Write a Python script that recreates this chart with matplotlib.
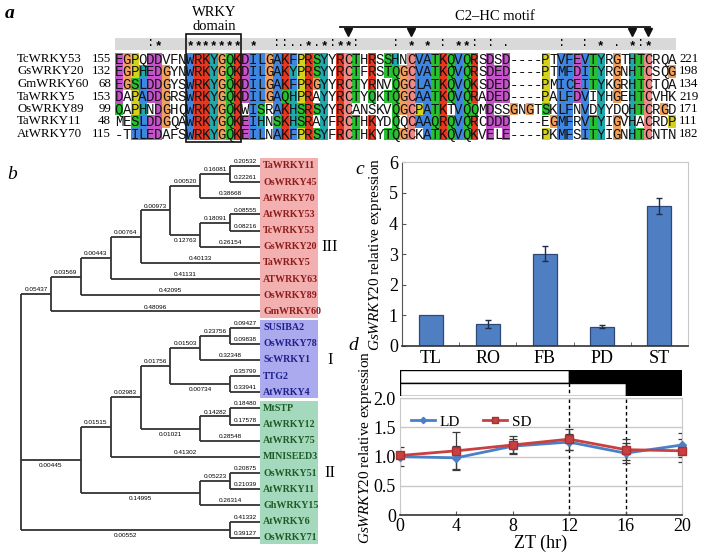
import matplotlib
matplotlib.use('Agg')
import matplotlib.pyplot as plt
from matplotlib.patches import Rectangle

plt.rcParams['font.family'] = ['Liberation Serif', 'DejaVu Serif']
plt.rcParams['mathtext.fontset'] = 'custom'
plt.rcParams['mathtext.rm'] = 'Liberation Serif'
plt.rcParams['mathtext.it'] = 'Liberation Serif:italic'

# ------------------------------------------------------------------ data
seq_names = ['TcWRKY53', 'GsWRKY20', 'GmWRKY60', 'TaWRKY5', 'OsWRKY89', 'TaWRKY11', 'AtWRKY70']
seq_start = [155, 132, 68, 153, 99, 48, 115]
seq_end = [221, 198, 134, 219, 171, 111, 182]
sequences = [
    'EGPQDDVFNWRKYGQKDILGAKFPRSYYRCTHRSSHNCVATKQVQRSDSD----PTVFEVTYRGTHTCRQA',
    'EGPHEDGYNWRKYGQKDILGAKYPRSYYRCTFRSTQGCVATKQVQRSDED----PTMFDITYRGNHTCSQG',
    'EGSLDDGYSWRKYGQKDILGAKFPRGYYRCTYRNVQGCLATKQVQKSDED----PMICEITYKGRHTCTQA',
    'DAPADDGRSWRKYGQKDILGAQHPRAYYRCTYQKTQGCAATKQVQRADED----PALFDVIYHGEHTCVHK',
    'QAPHNDGHQWRKYGQKWISRAKHSRSYYRCANSKVQGCPATKTVQQMDSSGNGTSKLFNVDYYDQHTCRGD',
    'MESLDDGQAWRKYGQKEIHNSKHSRAYFRCTHKYDQQCAAQRQVQRCDDD----EGMFRVTYIGVHACRDP',
    '-TILEDAFSWRKYGQKEILNAKFPRSYFRCTHKYTQGCKATKQVQKVELE----PKMFSITYIGNHTCNTN',
]
cons_cols = [4, 5, 9, 10, 11, 12, 13, 14, 15, 17, 20, 21, 22, 23, 24, 25, 26, 27, 28, 29, 30,
             35, 37, 39, 41, 43, 44, 45, 47, 49, 56, 59, 61, 63, 65, 66, 67]
cons_syms = [':', '*', '*', '*', '*', '*', '*', '*', '*', '*', ':', ':', '.', '.', '*', '.', '*', ':', '*', '*', ':',
             ':', '*', '*', ':', '*', '*', ':', ':', '.', ':', ':', '*', '.', '*', ':', '*']
wrky_domain_cols = (9, 16)
c2hc_cols = [29, 37, 65, 67]

tree_newick = ("((((((((TaWRKY11:0.20532,OsWRKY45:0.22261):0.16081,AtWRKY70:0.38668):0.00520,"
               "((AtWRKY53:0.08555,TcWRKY53:0.08216):0.18091,GsWRKY20:0.26154):0.12763):0.00973,"
               "TaWRKY5:0.40133):0.00764,ATWRKY63:0.41131):0.00443,OsWRKY89:0.42095):0.03569,"
               "GmWRKY60:0.48096):0.05437,"
               "((((((SUSIBA2:0.09427,OsWRKY78:0.09838):0.23756,ScWRKY1:0.32348):0.01503,"
               "(TTG2:0.35799,AtWRKY4:0.33941):0.00734):0.01756,((MtSTP:0.18480,AtWRKY12:0.17578):0.14282,"
               "AtWRKY75:0.28548):0.01021):0.02983,MINISEED3:0.41302):0.01515,"
               "((OsWRKY51:0.20875,AtWRKY11:0.21039):0.05223,GhWRKY15:0.26314):0.14995):0.00445,"
               "(AtWRKY6:0.41332,OsWRKY71:0.39127):0.00552);")
group_names = ['III', 'I', 'II']
group_first = [0, 10, 15]
group_last = [9, 14, 23]

tissues = ['TL', 'RO', 'FB', 'PD', 'ST']
tissue_expr = [1.0, 0.73, 3.02, 0.63, 4.57]
tissue_err = [0.0, 0.13, 0.25, 0.05, 0.27]

zt = [0, 4, 8, 12, 16, 20]
ld_expr = [1.00, 0.98, 1.18, 1.25, 1.06, 1.20]
ld_err = [0.16, 0.20, 0.12, 0.14, 0.17, 0.20]
sd_expr = [1.02, 1.10, 1.20, 1.30, 1.12, 1.10]
sd_err = [0.05, 0.33, 0.15, 0.18, 0.18, 0.20]
light_hours = [12, 16]   # top bar row, bottom bar row

# ------------------------------------------------------------------ figure
W, H = 701, 556
fig = plt.figure(figsize=(W / 100, H / 100), dpi=100)

def fx(px):
    return px / W

def fy(py):
    return 1 - py / H

# ================================================================ panel a
CW, RH, ROW0, COL0 = 7.9, 12.5, 59.0, 115.0
ax_a = fig.add_axes([0, fy(150), 1, 150 / H])
ax_a.set_xlim(-COL0 / CW, (W - COL0) / CW)
ax_a.set_ylim((150 - ROW0) / RH, (0 - ROW0) / RH)
ax_a.axis('off')

def prow(py):
    return (py - ROW0) / RH

nseq = len(sequences)
ncol = len(sequences[0])
hydro = set('WLVIMAFCHP')
arom = set('WYACPQFHILMV')

CLR = {'blue': '#3f86e0', 'red': '#e8361f', 'green': '#27c030', 'pink': '#f08a86',
       'magenta': '#c452c8', 'orange': '#f0a05a', 'yellow': '#d4d21c', 'cyan': '#1fa9ad'}

def frac(colres, group):
    return sum(1 for r in colres if r in group) / nseq

def single(colres, letters, thr):
    return any(colres.count(l) / nseq > thr for l in letters)

def clustalx(res, colres):
    if res == '-':
        return None
    if res == 'G':
        return 'orange'
    if res == 'P':
        return 'yellow'
    if res == 'C':
        if single(colres, 'C', 0.85):
            return 'pink'
        if frac(colres, hydro) > 0.6:
            return 'blue'
        return None
    if res in 'AILMFWV':
        if frac(colres, hydro) > 0.6:
            return 'blue'
        return None
    if res in 'KR':
        if frac(colres, 'KR') > 0.6 or single(colres, 'KRQ', 0.8):
            return 'red'
        return None
    if res == 'E':
        if frac(colres, 'KR') > 0.6 or frac(colres, 'QE') > 0.5 or frac(colres, 'ED') > 0.5 or single(colres, 'EQD', 0.85):
            return 'magenta'
        return None
    if res == 'D':
        if frac(colres, 'KR') > 0.6 or single(colres, 'KRQ', 0.85) or frac(colres, 'ED') > 0.5:
            return 'magenta'
        return None
    if res == 'N':
        if frac(colres, 'N') > 0.5 or single(colres, 'NY', 0.85):
            return 'green'
        return None
    if res == 'Q':
        if frac(colres, 'KR') > 0.6 or frac(colres, 'QE') > 0.5 or single(colres, 'QTKR', 0.85):
            return 'green'
        return None
    if res in 'ST':
        if frac(colres, hydro) > 0.6 or frac(colres, 'TS') > 0.5 or single(colres, 'ST', 0.85):
            return 'green'
        return None
    if res in 'HY':
        if frac(colres, hydro) > 0.6 or single(colres, arom, 0.85):
            return 'cyan'
        return None
    return None

# conservation band
ax_a.add_patch(Rectangle((0, prow(38)), ncol, prow(50) - prow(38), color='#d9d9d9', lw=0))
for c, s in zip(cons_cols, cons_syms):
    yy = prow(46) if s == '*' else prow(43)
    ax_a.text(c + 0.5, yy, s, ha='center', va='center', fontsize=9,
              family='Liberation Mono', fontweight='bold' if s == '*' else 'normal')

for i, seq in enumerate(sequences):
    for j, res in enumerate(seq):
        colres = [s[j] for s in sequences]
        cl = clustalx(res, colres)
        if cl:
            ax_a.add_patch(Rectangle((j, i - 0.5), 1, 1, color=CLR[cl], lw=0))
        ax_a.text(j + 0.5, i + 0.05, res, ha='center', va='center', fontsize=10.2,
                  family='Liberation Mono', color='#111111')
    ax_a.text((17 - COL0) / CW, i, seq_names[i], ha='left', va='center', fontsize=9.3)
    ax_a.text((111 - COL0) / CW, i, str(seq_start[i]), ha='right', va='center', fontsize=9.3)
    ax_a.text((679 - COL0) / CW, i, str(seq_end[i]), ha='left', va='center', fontsize=9.3)

# WRKY box
c0, c1 = wrky_domain_cols
ax_a.add_patch(Rectangle((c0, prow(34)), c1 - c0, prow(142) - prow(34), fill=False,
                         ec='#111111', lw=1.2))
ax_a.text((c0 + c1) / 2, prow(12), 'WRKY', ha='center', va='center', fontsize=10.5)
ax_a.text((c0 + c1) / 2, prow(27), 'domain', ha='center', va='center', fontsize=10.5)
# C2-HC motif
mx0, mx1 = (340 - COL0) / CW, (650 - COL0) / CW
ax_a.plot([mx0, mx1], [prow(27), prow(27)], color='#111111', lw=1.3)
ax_a.text((mx0 + mx1) / 2, prow(16), 'C2\u2013HC motif', ha='center', va='center', fontsize=10.5)
ax_a.plot([c + 0.5 for c in c2hc_cols], [prow(32)] * len(c2hc_cols), 'v', color='#111111', ms=5.5)

fig.text(fx(10), fy(14), 'a', fontsize=14, style='italic', fontweight='bold', ha='center', va='center')

# ================================================================ panel b
def parse(s, i=0):
    node = {'children': [], 'name': '', 'bl': ''}
    if s[i] == '(':
        i += 1
        while True:
            ch, i = parse(s, i)
            node['children'].append(ch)
            if s[i] == ',':
                i += 1
                continue
            if s[i] == ')':
                i += 1
                break
    else:
        j = i
        while s[j] not in ':,);':
            j += 1
        node['name'] = s[i:j]
        i = j
    if s[i] == ':':
        j = i + 1
        while s[j] not in ',);':
            j += 1
        node['bl'] = s[i + 1:j]
        i = j
    return node, i

root, _ = parse(tree_newick)
leaves = []

def layout(n):
    if not n['children']:
        n['y'] = len(leaves)
        n['h'] = 0
        leaves.append(n['name'])
        return
    for ch in n['children']:
        layout(ch)
    n['y'] = (n['children'][0]['y'] + n['children'][-1]['y']) / 2
    n['h'] = 1 + max(ch['h'] for ch in n['children'])

layout(root)
HR = root['h']

XU, X0, LY0, LDY = 29.875, 21.0, 166.0, 16.16
ax_b = fig.add_axes([0, 0, fx(360), 406 / H])
ax_b.set_xlim(-X0 / XU, (360 - X0) / XU)
ax_b.set_ylim((556 - LY0) / LDY, (150 - LY0) / LDY)
ax_b.axis('off')

group_box = ['#f3b0b0', '#abaaee', '#a5d9bd']
group_txt = ['#8e1c1c', '#20208c', '#1d5c26']
group_label_row = [5, 12, 19]
box_w = 58 / XU
for g in range(3):
    ax_b.add_patch(Rectangle((HR, group_first[g] - 0.47), box_w,
                             group_last[g] - group_first[g] + 0.85, color=group_box[g], lw=0))
    ax_b.text(HR + 70 / XU, group_label_row[g], group_names[g], ha='center', va='center', fontsize=12)

def leaf_group(idx):
    for g in range(3):
        if group_first[g] <= idx <= group_last[g]:
            return g
    return 0

def draw(n):
    x = HR - n['h']
    if not n['children']:
        return
    ax_b.plot([x, x], [n['children'][0]['y'], n['children'][-1]['y']], color='#333333', lw=1.3,
              solid_capstyle='butt')
    for k, ch in enumerate(n['children']):
        cx = HR - ch['h'] if ch['children'] else HR
        ax_b.plot([x, cx], [ch['y'], ch['y']], color='#333333', lw=1.3, solid_capstyle='butt')
        above = (not ch['children']) or k == 0
        if above:
            ax_b.text((x + cx) / 2, ch['y'] - 0.12, ch['bl'], ha='center', va='bottom', fontsize=4.6,
                      family='Liberation Sans')
        else:
            ax_b.text((x + cx) / 2, ch['y'] + 0.2, ch['bl'], ha='center', va='top', fontsize=4.6,
                      family='Liberation Sans')
        draw(ch)

draw(root)
for idx, name in enumerate(leaves):
    g = leaf_group(idx)
    ax_b.text(HR + 3 / XU, idx, name, ha='left', va='center', fontsize=7.2, fontweight='bold',
              color=group_txt[g])

fig.text(fx(12), fy(174), 'b', fontsize=14, style='italic', ha='center', va='center')

# ================================================================ panel c
ax_c = fig.add_axes([fx(402), fy(346), fx(688) - fx(402), (346 - 162.3) / H])
xs = list(range(len(tissues)))
ax_c.bar(xs, tissue_expr, width=0.42, color='#4f7fc2', edgecolor='#2b4a78', lw=0.9, zorder=2)
ax_c.errorbar([x for x, e in zip(xs, tissue_err) if e > 0],
              [v for v, e in zip(tissue_expr, tissue_err) if e > 0],
              yerr=[e for e in tissue_err if e > 0], fmt='none', ecolor='#1e2d4a',
              elinewidth=1.0, capsize=2.5, capthick=1.0, zorder=3)
ax_c.set_xlim(-0.5, len(tissues) - 0.5)
ax_c.set_ylim(0, 6)
ax_c.set_yticks(range(0, 7))
ax_c.set_yticklabels([str(v) for v in range(0, 7)], fontsize=13)
ax_c.set_xticks(xs)
ax_c.set_xticklabels(tissues, fontsize=13)
ax_c.set_xticks([x + 0.5 for x in xs[:-1]], minor=True)
ax_c.tick_params(axis='x', which='major', length=0, pad=3)
ax_c.tick_params(axis='x', which='minor', direction='in', length=3, color='#555555')
ax_c.tick_params(axis='y', direction='in', length=3, pad=3, color='#555555')
for sp in ['top', 'right']:
    ax_c.spines[sp].set_color('#c8c8c8')
ax_c.spines['left'].set_color('#555555')
ax_c.spines['bottom'].set_color('#333333')
ax_c.spines['bottom'].set_linewidth(1.2)
fig.text(fx(376), fy(254), r'$\mathit{GsWRKY20}$ relative expression', rotation=90,
         ha='center', va='center', fontsize=11)
fig.text(fx(360), fy(170), 'c', fontsize=14, style='italic', ha='center', va='center')

# ================================================================ panel d
ax_ld = fig.add_axes([fx(400), fy(396), fx(682) - fx(400), 26 / H])
ax_ld.set_xlim(0, 20)
ax_ld.set_ylim(2, 0)
ax_ld.axis('off')
for r, lh in enumerate(light_hours):
    ax_ld.add_patch(Rectangle((0, r), lh, 1, facecolor='white', edgecolor='black', lw=1.0))
    ax_ld.add_patch(Rectangle((lh, r), 20 - lh, 1, facecolor='black', edgecolor='black', lw=1.0))
ax_ld.plot([light_hours[0], light_hours[0]], [1, 2], ls=(0, (2.5, 2)), color='black', lw=1.0)

ax_d = fig.add_axes([fx(400), fy(515), fx(682) - fx(400), (515 - 398.3) / H])
ax_d.set_xlim(0, 20)
ax_d.set_ylim(0, 2.0)
for yv in [0.5, 1.0, 1.5, 2.0]:
    ax_d.axhline(yv, color='#c8c8c8', lw=1.0, zorder=0)
for lh in light_hours:
    ax_d.plot([lh, lh], [0, 2.0], ls=(0, (2.5, 2)), color='black', lw=1.0, zorder=1, clip_on=False)
ax_d.errorbar(zt, ld_expr, yerr=ld_err, fmt='none', ecolor='#3a3a3a', elinewidth=0.9,
              capsize=3, capthick=0.9, zorder=2)
ax_d.errorbar(zt, sd_expr, yerr=sd_err, fmt='none', ecolor='#3a3a3a', elinewidth=0.9,
              capsize=3, capthick=0.9, zorder=2)
ax_d.plot(zt, ld_expr, color='#4a80c8', lw=2.0, marker='D', ms=4, mfc='#4a80c8', mec='#4a80c8',
          label='LD', zorder=3, clip_on=False)
ax_d.plot(zt, sd_expr, color='#c84040', lw=2.0, marker='s', ms=6, mfc='#c84040', mec='#a83030',
          label='SD', zorder=4, clip_on=False)
ax_d.set_xticks(zt)
ax_d.set_xticklabels([str(v) for v in zt], fontsize=13)
ax_d.set_yticks([0, 0.5, 1.0, 1.5, 2.0])
ax_d.set_yticklabels(['0', '0.5', '1.0', '1.5', '2.0'], fontsize=13)
ax_d.tick_params(axis='x', direction='in', length=3, pad=2, color='#555555')
ax_d.tick_params(axis='y', length=0, pad=3)
for sp in ['top', 'right', 'left']:
    ax_d.spines[sp].set_color('#c8c8c8')
ax_d.spines['bottom'].set_color('#333333')
ax_d.spines['bottom'].set_linewidth(1.2)
ax_d.set_xlabel('ZT (hr)', fontsize=13, labelpad=0)
ax_d.legend(loc='upper left', bbox_to_anchor=(0.0, 0.95), ncol=2, frameon=False, fontsize=11,
            handlelength=1.6, handletextpad=0.3, columnspacing=1.5, borderaxespad=0.3,
            markerscale=0.8)
fig.text(fx(365), fy(447), r'$\mathit{GsWRKY20}$ relative expression', rotation=90,
         ha='center', va='center', fontsize=11)
fig.text(fx(353), fy(346), 'd', fontsize=14, style='italic', ha='center', va='center')

fig.savefig('out.png', dpi=100)
